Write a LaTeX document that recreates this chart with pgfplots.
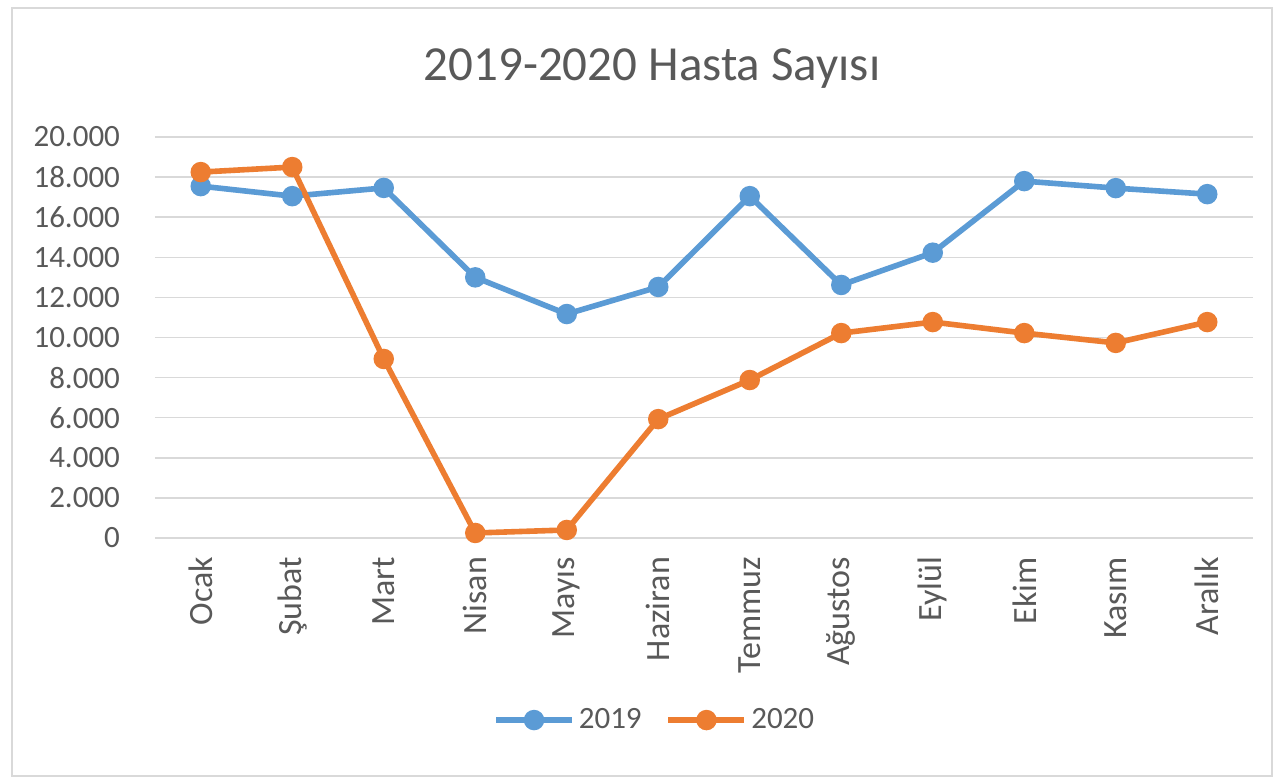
\documentclass[border=0pt]{standalone}
\usepackage{fontspec}
\setmainfont{Carlito}
\usepackage{pgfplots}
\pgfplotsset{compat=1.18}
\definecolor{c19}{HTML}{5B9BD5}
\definecolor{c20}{HTML}{ED7D31}
\definecolor{txt}{HTML}{595959}
\definecolor{gridc}{HTML}{D9D9D9}
\begin{document}
\begin{tikzpicture}
\fill[white] (0pt,0pt) rectangle (636.5pt,388.5pt);
\draw[gridc, line width=0.8pt] (6pt,0.5pt) rectangle (636pt,384.5pt);
\node[txt, font=\fontsize{24.5}{29}\selectfont] at (326pt,354pt) {2019-2020 Hasta Sayısı};
\begin{axis}[
  at={(77.5pt,119.5pt)}, anchor=south west,
  scale only axis, width=549pt, height=200.5pt,
  xmin=-0.5, xmax=11.5, ymin=0, ymax=20000,
  xtick={0,...,11},
  xticklabels={Ocak,Şubat,Mart,Nisan,Mayıs,Haziran,Temmuz,Ağustos,Eylül,Ekim,Kasım,Aralık},
  ytick={0,2000,...,20000},
  scaled y ticks=false,
  /pgf/number format/1000 sep={.},
  /pgf/number format/assume math mode=true,
  ymajorgrids, grid style={gridc, line width=0.75pt},
  axis line style={draw=none},
  major tick length=0pt,
  tick label style={txt, font=\fontsize{15.5}{18}\selectfont},
  yticklabel style={anchor=east, xshift=-14pt},
  xticklabel style={rotate=90, anchor=east, xshift=-6pt, font=\fontsize{17}{20}\selectfont},
  clip=false,
  legend columns=2,
  legend style={at={(0.456,-0.454)}, anchor=center, draw=none, fill=none,
    font=\fontsize{15.5}{18}\selectfont, text=txt,
    /tikz/every even column/.append style={column sep=10pt}},
  legend image code/.code={
    \draw[#1, mark=none] (0pt,0pt) -- (38pt,0pt);
    \draw[#1, only marks] plot coordinates {(19pt,0pt)};
  },
]
\addplot[c19, line width=2.8pt, mark=*, mark size=3.7pt] coordinates {
(0,17550) (1,17050) (2,17460) (3,13000) (4,11170) (5,12520)
(6,17050) (7,12620) (8,14230) (9,17800) (10,17450) (11,17150)};
\addlegendentry{2019}
\addplot[c20, line width=2.8pt, mark=*, mark size=3.7pt] coordinates {
(0,18250) (1,18500) (2,8930) (3,250) (4,400) (5,5930)
(6,7880) (7,10220) (8,10770) (9,10220) (10,9730) (11,10770)};
\addlegendentry{2020}
\end{axis}
\end{tikzpicture}
\end{document}
